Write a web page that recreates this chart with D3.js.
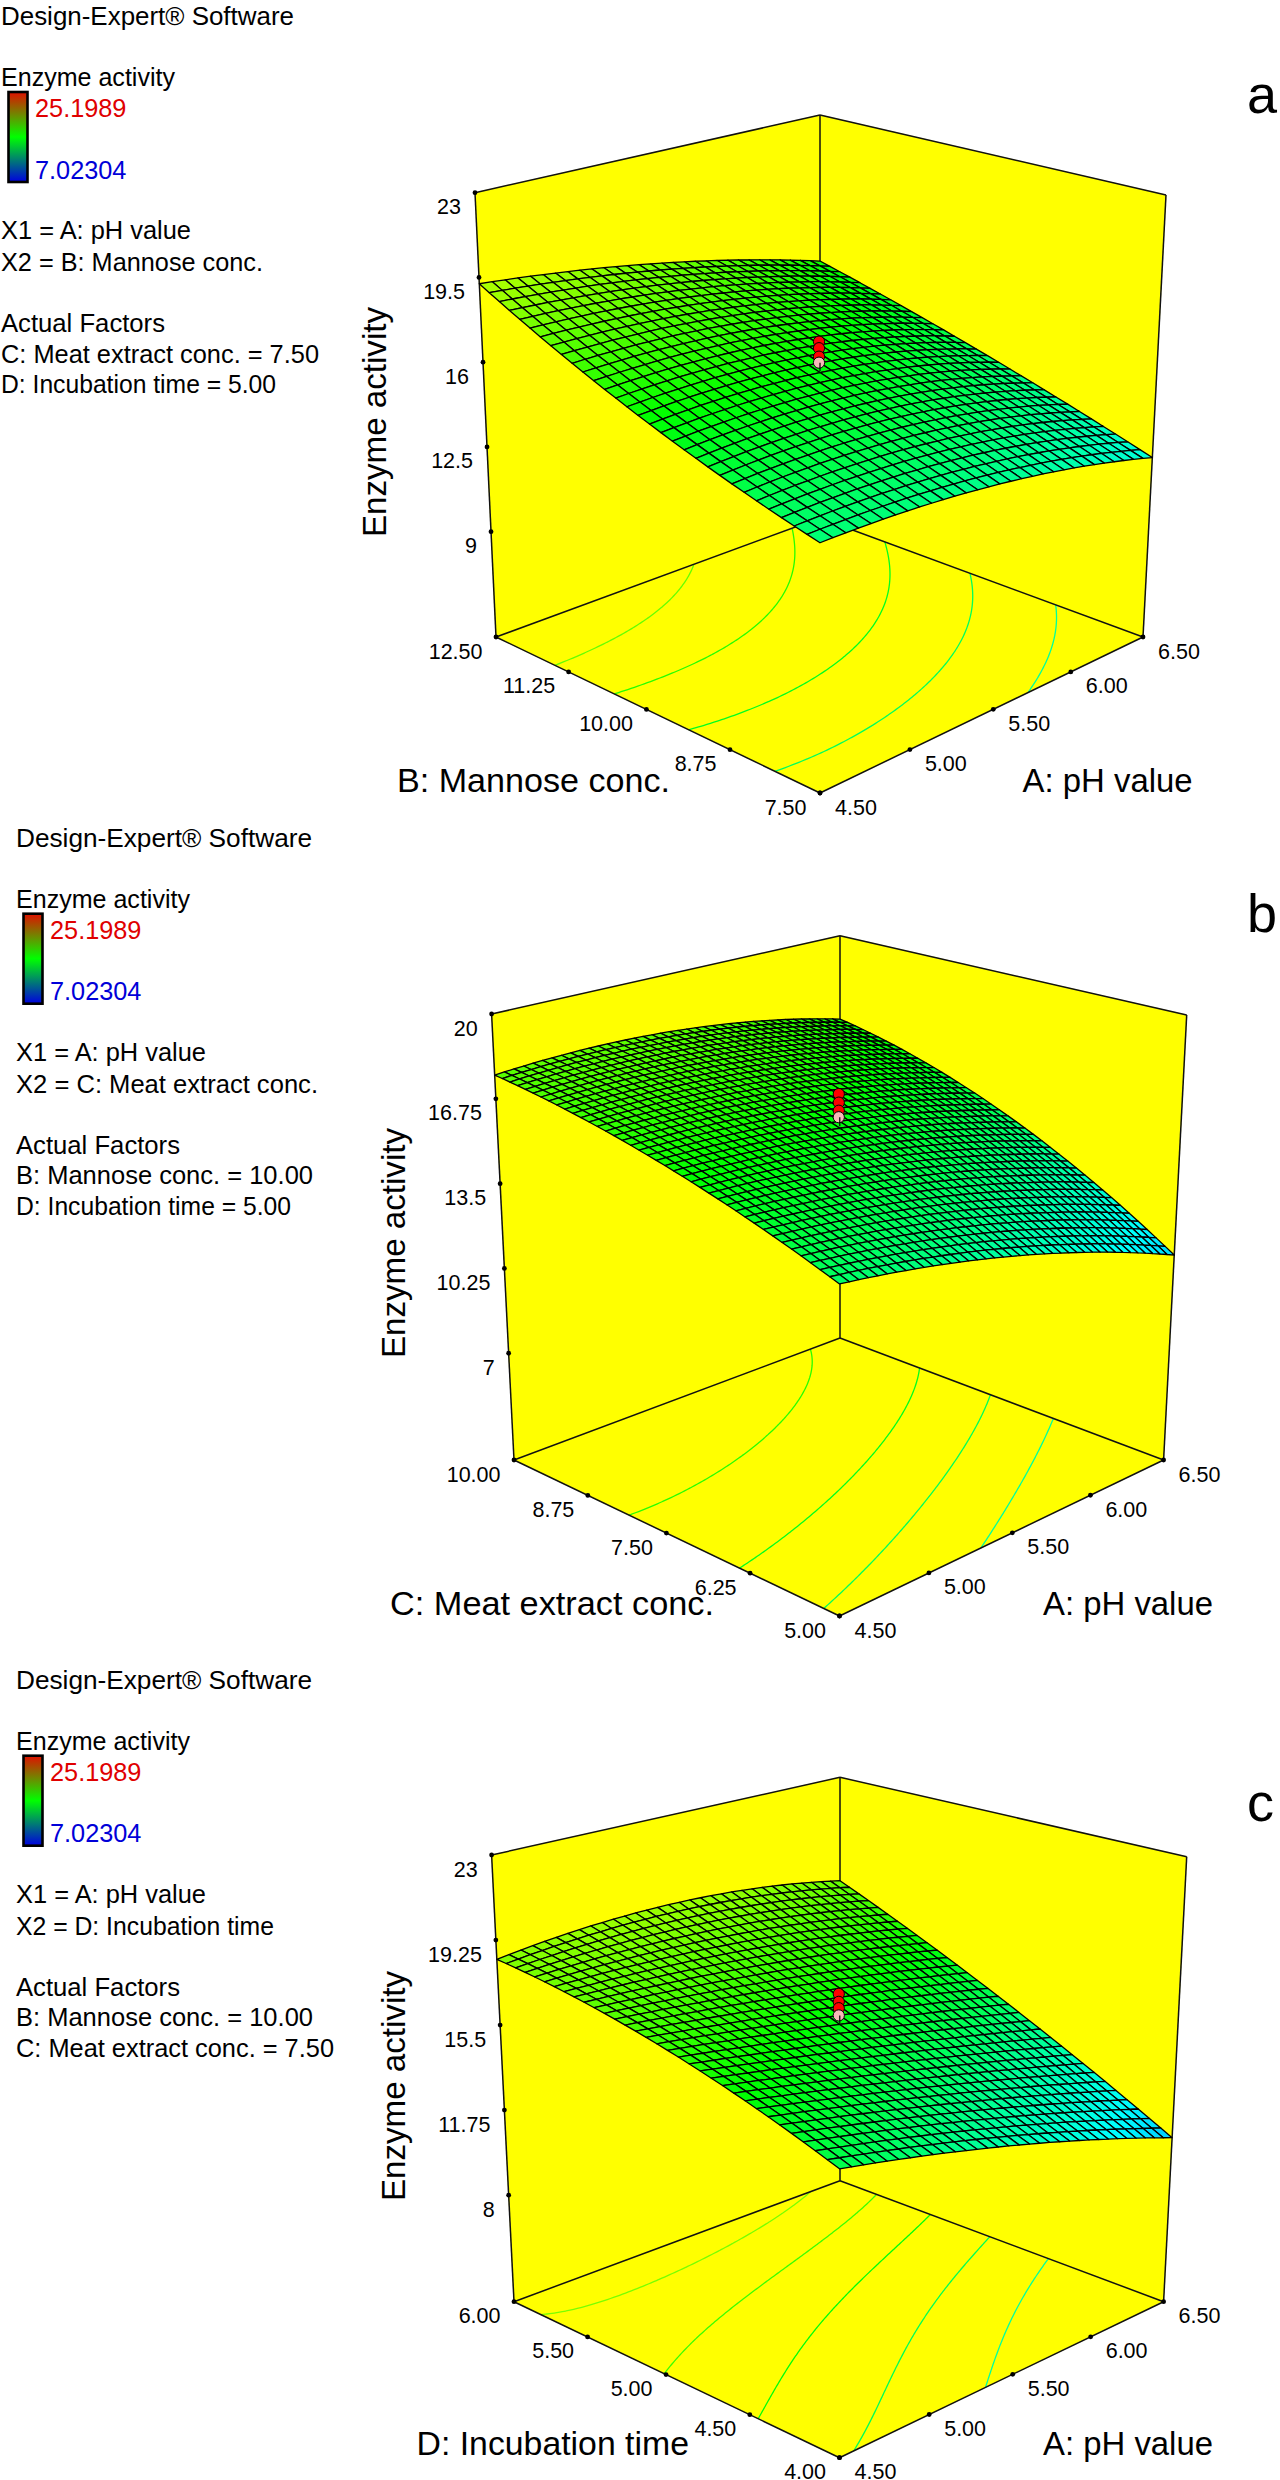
<!DOCTYPE html>
<html>
<head>
<meta charset="utf-8">
<script src="https://cdnjs.cloudflare.com/ajax/libs/d3/7.8.5/d3.min.js"></script>
<style>
html,body{margin:0;padding:0;background:#fff}
svg{display:block}
text{font-family:"Liberation Sans",Arial,Helvetica,sans-serif;fill:#000}
</style>
</head>
<body>
<div id="chart"></div>
<script>
// ---- values ----
const softwareLabel = "Design-Expert® Software";
const responseLabel = "Enzyme activity";
const responseMax = 25.1989;
const responseMin = 7.02304;
const x1Label = "X1 = A: pH value";
const factorA = "A: pH value";
const factorATicks = [4.5, 5, 5.5, 6, 6.5];

// panel a
const aFactor = "B: Mannose conc.";
const aLegend = ["X2 = B: Mannose conc.", "Actual Factors", "C: Meat extract conc. = 7.50", "D: Incubation time = 5.00"];
const aTicks = [7.5, 8.75, 10, 11.25, 12.5];
const aZTicks = [9, 12.5, 16, 19.5, 23];
const aFloor = 4.65;
// response at pH 4.5 / 5.5 / 6.5 (columns) and low / centre / high factor (rows)
const aSurface = [
  [13.98, 13.53, 12.10],
  [16.20, 16.00, 14.43],
  [19.24, 18.14, 16.35]
];
const aLevels = [17.9, 16.75, 15.55, 14.45, 13.3];
const aRuns = [16.88, 16.61, 16.26, 16.01];

// panel b
const bFactor = "C: Meat extract conc.";
const bLegend = ["X2 = C: Meat extract conc.", "Actual Factors", "B: Mannose conc. = 10.00", "D: Incubation time = 5.00"];
const bTicks = [5, 6.25, 7.5, 8.75, 10];
const bZTicks = [7, 10.25, 13.5, 16.75, 20];
const bFloor = 2.91;
const bSurface = [
  [14.28, 12.98, 10.78],
  [16.43, 15.90, 14.46],
  [17.66, 17.66, 16.46]
];
const bLevels = [16.8, 15.6, 14.5, 13.3];
const bRuns = [16.95, 16.62, 16.31, 16.06];

// panel c
const cFactor = "D: Incubation time";
const cLegend = ["X2 = D: Incubation time", "Actual Factors", "B: Mannose conc. = 10.00", "C: Meat extract conc. = 7.50"];
const cTicks = [4, 4.5, 5, 5.5, 6];
const cZTicks = [8, 11.75, 15.5, 19.25, 23];
const cFloor = 3.3;
const cSurface = [
  [14.72, 12.91, 10.56],
  [17.13, 15.95, 14.54],
  [18.40, 18.88, 17.95]
];
const cLevels = [18.25, 17.15, 15.95, 14.6, 13.25];
const cRuns = [16.90, 16.55, 16.27, 15.95];

// ---- layout ----
const panels = [
  {letter:"a", letterY:113, legendDx:0, legendDy:0, softwareW:293, legendW:[262,164,318,275], factor:aFactor, legend:aLegend, ticks:aTicks, zTicks:aZTicks, floor:aFloor,
   surface:aSurface, levels:aLevels, runs:aRuns, cells:30, titleX:386, titleY:422, factorX:397, factorW:273, aX:1022.6, axisBase:791.7,
   BF:[820,793], BR:[1143,637], BK:[820,518], BL:[496,637], TL:[475,192.7], TR:[1166,195], TB:[820,115]},
  {letter:"b", letterY:932, legendDx:15, legendDy:821.7, softwareW:296, legendW:[302,164,297,275], factor:bFactor, legend:bLegend, ticks:bTicks, zTicks:bZTicks, floor:bFloor,
   surface:bSurface, levels:bLevels, runs:bRuns, cells:40, titleX:404.5, titleY:1243, factorX:390, factorW:324, aX:1043, axisBase:1615,
   BF:[839.5,1616], BR:[1163.6,1460], BK:[840,1338], BL:[514,1460], TL:[491.6,1014], TR:[1186.7,1015], TB:[840,935.7]},
  {letter:"c", letterY:1821, legendDx:15, legendDy:1663.7, softwareW:296, legendW:[258,164,297,318], factor:cFactor, legend:cLegend, ticks:cTicks, zTicks:cZTicks, floor:cFloor,
   surface:cSurface, levels:cLevels, runs:cRuns, cells:32, titleX:404.5, titleY:2086, factorX:416.5, factorW:272.5, aX:1043, axisBase:2455,
   BF:[839.5,2457.7], BR:[1163.6,2301.7], BK:[840,2180.7], BL:[514,2301.7], TL:[491.6,1855], TR:[1186.7,1856.7], TB:[840,1777.3]}
];

const width = 1280, height = 2480;
const legendFont = 25.3, tickFont = 21.5, titleFont = 34, letterFont = 54;
const responseW = 174, x1W = 190, titleW = 230;

const surfaceColor = d3.scaleLinear()
  .domain([responseMin, 11.57, 16.11, 20.65, responseMax])
  .range(["#0000ff", "#00ffff", "#00ff00", "#ffff00", "#ff0000"])
  .clamp(true);

const svg = d3.select("#chart").append("svg")
  .attr("width", width).attr("height", height)
  .attr("viewBox", `0 0 ${width} ${height}`);

const defs = svg.append("defs");
const grad = defs.append("linearGradient").attr("id", "legendRamp")
  .attr("x1", 0).attr("x2", 0).attr("y1", 0).attr("y2", 1);
grad.selectAll("stop").data([[0, "#e01000"], [0.5, "#00ff00"], [1, "#0000e0"]])
  .join("stop").attr("offset", d => d[0]).attr("stop-color", d => d[1]);

// Maps the unit square onto a drawn quadrilateral (perspective).
function quadMap(p0, p1, p2, p3) {
  const [x0, y0] = p0, [x1, y1] = p1, [x2, y2] = p2, [x3, y3] = p3;
  const dx1 = x1 - x2, dx2 = x3 - x2, sx = x0 - x1 + x2 - x3;
  const dy1 = y1 - y2, dy2 = y3 - y2, sy = y0 - y1 + y2 - y3;
  const den = dx1 * dy2 - dx2 * dy1;
  const g = (sx * dy2 - dx2 * sy) / den, h = (dx1 * sy - sx * dy1) / den;
  const a = x1 - x0 + g * x1, b = x3 - x0 + h * x3;
  const d = y1 - y0 + g * y1, e = y3 - y0 + h * y3;
  return (u, v) => {
    const D = g * u + h * v + 1;
    return [(a * u + b * v + x0) / D, (d * u + e * v + y0) / D];
  };
}

// Box camera: floor and lid are perspective quads, heights run evenly between them.
function makeCamera(p) {
  const hL = p.BL[1] - p.TL[1], hR = p.BR[1] - p.TR[1], hB = p.BK[1] - p.TB[1];
  const hF = 1 / (1 / hL + 1 / hR - 1 / hB);
  const TF = [p.BF[0], p.BF[1] - hF];
  const floorMap = quadMap(p.BF, p.BR, p.BK, p.BL);
  const lidMap = quadMap(TF, p.TR, p.TB, p.TL);
  return (u, v, w) => {
    const f = floorMap(u, v), t = lidMap(u, v);
    return [f[0] + (t[0] - f[0]) * w, f[1] + (t[1] - f[1]) * w];
  };
}

// Smooth response sheet through the 3x3 values.
const basis = t => [2 * (t - .5) * (t - 1), -4 * t * (t - 1), 2 * t * (t - .5)];
const response = (table, u, v) => {
  const bu = basis(u), bv = basis(v);
  return d3.sum(bv, (bj, j) => d3.sum(bu, (bi, i) => bi * bj * table[j][i]));
};

const line = d3.line();

function drawLegend(g, p) {
  const dx = p.legendDx, dy = p.legendDy;
  const rows = [
    [25, softwareLabel, p.softwareW], [86, responseLabel, responseW],
    [239, x1Label, x1W], [271, p.legend[0], p.legendW[0]],
    [332, p.legend[1], p.legendW[1]], [362.5, p.legend[2], p.legendW[2]], [393, p.legend[3], p.legendW[3]]
  ];
  g.selectAll("text.legend").data(rows).join("text").attr("class", "legend")
    .attr("x", 1 + dx).attr("y", d => d[0] + dy)
    .attr("font-size", legendFont)
    .attr("textLength", d => d[2]).attr("lengthAdjust", "spacingAndGlyphs")
    .text(d => d[1]);
  g.append("rect").attr("x", 8.5 + dx).attr("y", 92 + dy).attr("width", 19).attr("height", 90)
    .attr("fill", "url(#legendRamp)").attr("stroke", "#000").attr("stroke-width", 2.6);
  g.append("text").attr("x", 35 + dx).attr("y", 117 + dy).attr("font-size", legendFont)
    .style("fill", "#e00000").text(responseMax);
  g.append("text").attr("x", 35 + dx).attr("y", 178.7 + dy).attr("font-size", legendFont)
    .style("fill", "#0000d8").text(responseMin);
}

function drawPanel(p) {
  const g = svg.append("g");
  drawLegend(g, p);
  g.append("text").attr("x", 1247).attr("y", p.letterY).attr("font-size", letterFont).text(p.letter);

  const cam = makeCamera(p);
  const uScale = d3.scaleLinear().domain(d3.extent(factorATicks)).range([0, 1]);
  const vScale = d3.scaleLinear().domain(d3.extent(p.ticks)).range([0, 1]);
  const wScale = d3.scaleLinear().domain([p.floor, d3.max(p.zTicks)]).range([0, 1]);

  // walls and floor
  const walls = [
    [[0,1,1],[1,1,1],[1,1,0],[0,1,0]],
    [[1,1,1],[1,0,1],[1,0,0],[1,1,0]],
    [[0,0,0],[1,0,0],[1,1,0],[0,1,0]]
  ];
  g.selectAll("path.wall").data(walls).join("path").attr("class", "wall")
    .attr("d", d => line(d.map(q => cam(...q))) + "Z")
    .attr("fill", "#ffff00").attr("stroke", "#ffff00").attr("stroke-width", .5);

  // contours on the floor
  const n = 121;
  const values = [];
  for (let j = 0; j < n; j++) for (let i = 0; i < n; i++)
    values.push(response(p.surface, i / (n - 1), j / (n - 1)));
  const contourGen = d3.contours().size([n, n]).smooth(true);
  const clamp01 = t => Math.max(0, Math.min(1, t));
  const isEdge = q => q[0] <= 0 || q[0] >= n || q[1] <= 0 || q[1] >= n;
  p.levels.forEach(level => {
    const mp = contourGen.contour(values, level);
    mp.coordinates.forEach(poly => poly.forEach(ring => {
      let pts = ring.slice(0, -1);
      const start = pts.findIndex(isEdge);
      if (start > 0) pts = pts.slice(start).concat(pts.slice(0, start));
      let run = [];
      const flush = () => {
        if (run.length > 1) {
          g.append("path")
            .attr("d", line(run.map(q => cam(clamp01((q[0] - .5) / (n - 1)), clamp01((q[1] - .5) / (n - 1)), 0))))
            .attr("fill", "none").attr("stroke", surfaceColor(level)).attr("stroke-width", 1.3);
        }
        run = [];
      };
      pts.forEach(q => { if (isEdge(q)) flush(); else run.push(q); });
      flush();
    }));
  });

  // box edges
  const edges = [
    [[0,1,1],[1,1,1]], [[1,1,1],[1,0,1]], [[1,1,1],[1,1,0]],
    [[0,1,1],[0,1,0]], [[1,0,1],[1,0,0]],
    [[0,1,0],[0,0,0]], [[0,0,0],[1,0,0]], [[0,1,0],[1,1,0]], [[1,0,0],[1,1,0]]
  ];
  g.selectAll("path.edge").data(edges).join("path").attr("class", "edge")
    .attr("d", d => line(d.map(q => cam(...q))))
    .attr("fill", "none").attr("stroke", "#111").attr("stroke-width", 1.5);

  // axis tick dots and labels
  const fmt = d3.format(".2f");
  const tickRows = [];
  p.zTicks.forEach(t => tickRows.push({pt: cam(0, 1, wScale(t)), label: String(t), dx: -14, dy: 21.5, anchor: "end"}));
  p.ticks.forEach(t => tickRows.push({pt: cam(0, vScale(t), 0), label: fmt(t), dx: -13.5, dy: 21.5, anchor: "end"}));
  factorATicks.forEach(t => tickRows.push({pt: cam(uScale(t), 0, 0), label: fmt(t), dx: 15, dy: 21.5, anchor: "start"}));
  g.selectAll("circle.tick").data(tickRows).join("circle").attr("class", "tick")
    .attr("cx", d => d.pt[0]).attr("cy", d => d.pt[1]).attr("r", 2.4).attr("fill", "#000");
  g.selectAll("text.tick").data(tickRows).join("text").attr("class", "tick")
    .attr("x", d => d.pt[0] + d.dx).attr("y", d => d.pt[1] + d.dy)
    .attr("text-anchor", d => d.anchor).attr("font-size", tickFont).text(d => d.label);

  // axis titles
  g.append("text").attr("transform", `translate(${p.titleX},${p.titleY}) rotate(-90)`)
    .attr("text-anchor", "middle").attr("font-size", titleFont)
    .attr("textLength", titleW).attr("lengthAdjust", "spacingAndGlyphs").text(responseLabel);
  g.append("text").attr("x", p.factorX).attr("y", p.axisBase).attr("font-size", titleFont)
    .attr("textLength", p.factorW).attr("lengthAdjust", "spacingAndGlyphs").text(p.factor);
  g.append("text").attr("x", p.aX).attr("y", p.axisBase).attr("font-size", titleFont)
    .attr("textLength", 170).attr("lengthAdjust", "spacingAndGlyphs").text(factorA);

  // response surface, painted from the back corner to the front corner
  const N = p.cells;
  const cells = [];
  for (let j = N - 1; j >= 0; j--) for (let i = N - 1; i >= 0; i--) cells.push([i, j]);
  const sheet = (i, j) => {
    const u = i / N, v = j / N;
    return cam(u, v, wScale(response(p.surface, u, v)));
  };
  g.append("g").selectAll("path").data(cells).join("path")
    .attr("d", ([i, j]) => line([sheet(i, j), sheet(i + 1, j), sheet(i + 1, j + 1), sheet(i, j + 1)]) + "Z")
    .attr("fill", ([i, j]) => surfaceColor(response(p.surface, (i + .5) / N, (j + .5) / N)))
    .attr("stroke", "#000").attr("stroke-width", 1.3).attr("stroke-linejoin", "round");

  // centre-point runs
  const runCentre = p.runs.map(z => cam(.5, .5, wScale(z)));
  const lastRun = p.runs[p.runs.length - 1];
  const balls = g.append("g");
  balls.selectAll("circle").data(runCentre).join("circle")
    .attr("cx", d => d[0] - 1).attr("cy", d => d[1]).attr("r", 5.6)
    .attr("fill", (d, i) => i === runCentre.length - 1 ? "#f8b8b8" : "#ff0000")
    .attr("stroke", "#000").attr("stroke-width", 1);
  g.append("path")
    .attr("d", line([cam(.5, .5, wScale(lastRun)), cam(.5, .5, wScale(lastRun - .35))]))
    .attr("stroke", "#000").attr("stroke-width", 1.2);
}

panels.forEach(drawPanel);
</script>
</body>
</html>
